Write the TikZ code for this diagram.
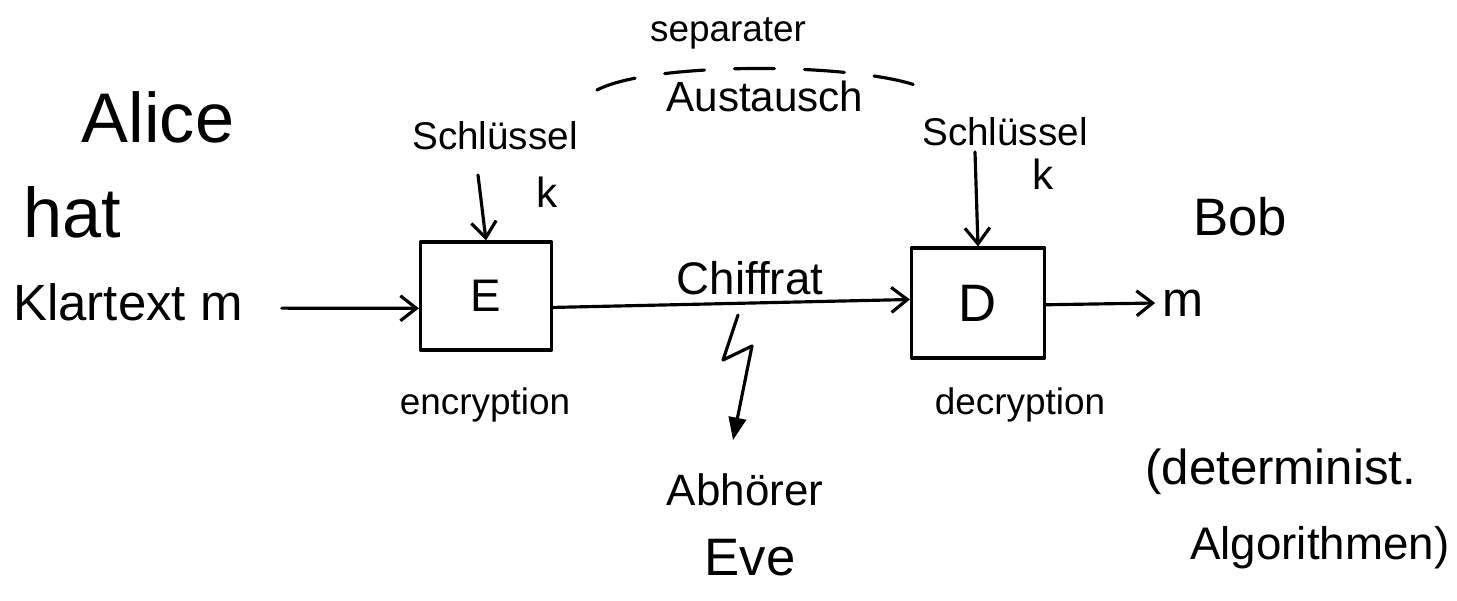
\documentclass[tikz,border=0pt]{standalone}
\usepackage{fontspec}
\setmainfont{Liberation Sans}
\usetikzlibrary{arrows.meta}
\newcommand{\fs}[1]{\fontsize{#1}{1.15\dimexpr#1pt\relax}\selectfont}
\begin{document}
\begin{tikzpicture}[x=0.02cm,y=-0.02cm,
  ink/.style={line width=1.8pt,line cap=round,line join=round},
  arr/.style={ink,-{Straight Barb[length=0.32cm,width=0.5cm,line width=1.8pt]}},
  box/.style={draw,ink,rectangle,inner sep=0pt},
  lbl/.style={inner sep=0pt,anchor=center}]
\useasboundingbox (0,0) rectangle (1457,600);

% Alice's side
\node[lbl] (alice) at (158,117) {\fs{40}Alice};
\node[lbl] (hat) at (72,212) {\fs{40}hat};
\node[lbl] (klar) at (128,302) {\fs{29}Klartext m};

% encryption box and its key
\node[box,minimum width=2.62cm,minimum height=2.16cm] (E) at (486,296) {\fs{26}E};
\node[lbl] (s1) at (495,136) {\fs{22}Schlüssel};
\node[lbl] (k1) at (547,192) {\fs{24}k};
\coordinate (kE) at (478,175);
\node[lbl] (enc) at (485,405) {\fs{21}encryption};

% decryption box and its key
\node[box,minimum width=2.66cm,minimum height=2.2cm] (D) at (978,303) {\fs{30}D};
\node[lbl] (s2) at (1005,132) {\fs{22}Schlüssel};
\node[lbl] (k2) at (1043,174) {\fs{24}k};
\coordinate (kD) at (975,152);
\node[lbl] (dec) at (1020,405) {\fs{21}decryption};

% Bob's side
\node[lbl] (bob) at (1240,217) {\fs{30}Bob};
\node[lbl] (mout) at (1183,303) {\fs{28}m};
\node[lbl,anchor=west] (algo1) at (1145,472) {\fs{28}(determinist.};
\node[lbl,anchor=west] (algo2) at (1190,548) {\fs{26}Algorithmen)};

% key exchange
\node[lbl] (sep) at (728,33) {\fs{21}separater};
\node[lbl] (aus) at (765,96) {\fs{24}Austausch};
\coordinate (xa) at (597,90);
\coordinate (xb) at (918,86);
\draw[ink,dash pattern=on 0.8cm off 0.6cm] (xa) .. controls (650,62) and (850,62) .. (xb);

% ciphertext and eavesdropper
\node[lbl] (chi) at (750,278) {\fs{26}Chiffrat};
\node[lbl] (abh) at (745,490) {\fs{25}Abhörer};
\node[lbl] (eve) at (750,558) {\fs{30}Eve};
\coordinate (lz) at (738,315);
\coordinate (lt) at (733,440);

% connectors
\draw[arr] ([xshift=22pt,yshift=-3.5pt]klar.east) -- ([yshift=-7pt]E.west);
\draw[arr] (kE) -- (E.north);
\draw[arr] (kD) -- (D.north);
\draw[arr] ([yshift=-6.5pt]E.east) -- ([yshift=2pt]D.west);
\draw[arr] ([yshift=-1pt]D.east) -- ([xshift=-4pt]mout.west);
\draw[ink,-{Triangle[length=0.45cm,width=0.35cm]}] (lz) -- (723,360) -- (752,346) -- (lt);
\end{tikzpicture}
\end{document}
